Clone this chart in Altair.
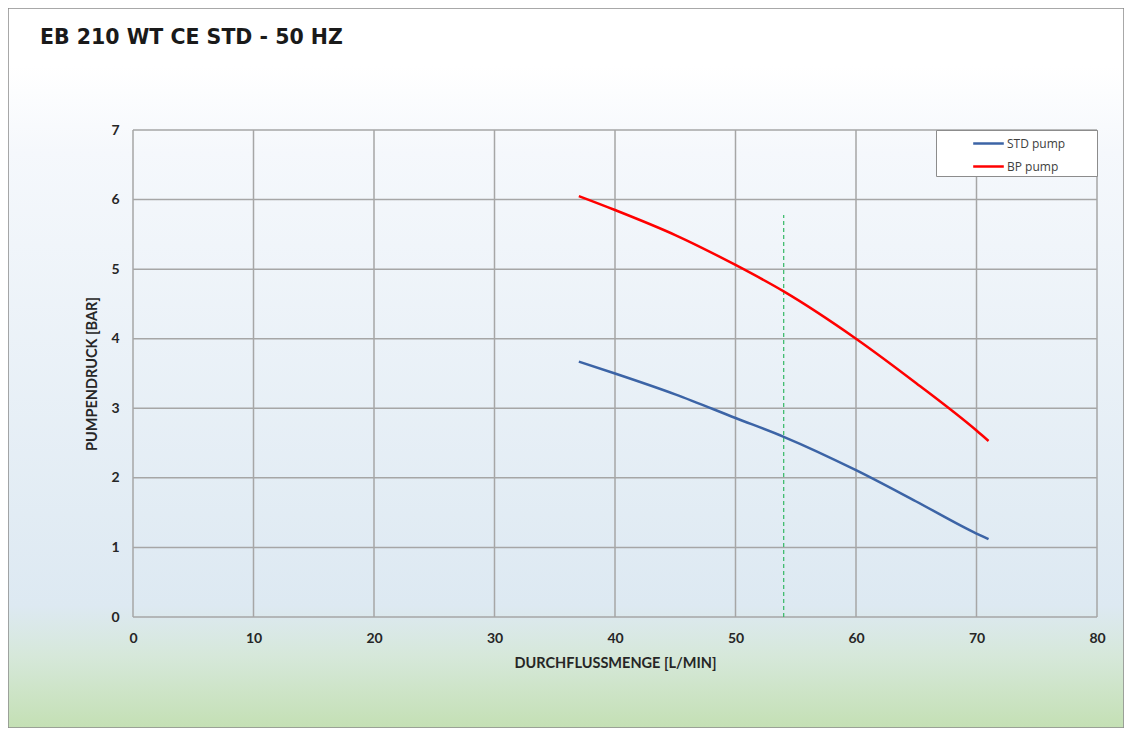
import altair as alt
import pandas as pd

# data
flow_std = [37, 40, 45, 50, 54, 60, 65, 70, 71]
pres_std = [3.67, 3.50, 3.20, 2.86, 2.59, 2.11, 1.66, 1.20, 1.12]
flow_bp = [37, 40, 45, 50, 54, 60, 65, 70, 71]
pres_bp = [6.05, 5.85, 5.49, 5.06, 4.68, 4.00, 3.36, 2.68, 2.53]
marker_flow = [54]
marker_top = [5.78]
series_names = ["STD pump", "BP pump"]
series_colors = ["#3c64a6", "#ff0000"]
x_ticks = [0, 10, 20, 30, 40, 50, 60, 70, 80]
y_ticks = [0, 1, 2, 3, 4, 5, 6, 7]
title_text = "EB 210 WT CE STD - 50 HZ"
x_title = "DURCHFLUSSMENGE [L/MIN]"
y_title = "PUMPENDRUCK [BAR]"

W, H = 964, 487
PL, PT, PR, PB = 125, 122, 27, 111
GRID = "#a6a6a6"

df = pd.concat([
    pd.DataFrame({"flow": flow_std, "pressure": pres_std, "series": series_names[0]}),
    pd.DataFrame({"flow": flow_bp, "pressure": pres_bp, "series": series_names[1]}),
])
df_marker = pd.DataFrame({"flow": marker_flow, "y0": [0], "y1": marker_top})

xs = alt.Scale(domain=[0, 80], nice=False)
ys = alt.Scale(domain=[0, 7], nice=False)

axis_common = dict(grid=False, domain=False, ticks=False, zindex=2, labelFlush=False,
                   labelFont="Lato", labelFontSize=14, labelFontWeight="bold", labelColor="#262626",
                   titleFont="Lato", titleFontSize=14.5, titleFontWeight="bold", titleColor="#262626")
x_axis = alt.Axis(values=x_ticks, labelPadding=14, titlePadding=11, **axis_common)
y_axis = alt.Axis(values=y_ticks, labelPadding=14, titlePadding=11, **axis_common)

bg = alt.Chart(pd.DataFrame({"a": [0]})).mark_rect(
    clip=False,
    stroke="#8c8c8c",
    strokeWidth=1.5,
    color={
        "gradient": "linear",
        "x1": 0, "x2": 0, "y1": 0, "y2": 1,
        "stops": [
            {"offset": 0.0, "color": "#ffffff"},
            {"offset": 0.08, "color": "#ffffff"},
            {"offset": 0.2, "color": "#f5f8fc"},
            {"offset": 0.83, "color": "#dde9f2"},
            {"offset": 0.9, "color": "#d6e8da"},
            {"offset": 1.0, "color": "#c4e0b4"},
        ],
    },
).encode(
    x=alt.value(-PL), x2=alt.value(W + PR),
    y=alt.value(-PT), y2=alt.value(H + PB),
)

grid_x = alt.Chart(pd.DataFrame({"v": x_ticks})).mark_rule(color=GRID, strokeWidth=1.5).encode(
    x=alt.X("v:Q", scale=xs, title=x_title, axis=x_axis)
)
grid_y = alt.Chart(pd.DataFrame({"v": y_ticks})).mark_rule(color=GRID, strokeWidth=1.5).encode(
    y=alt.Y("v:Q", scale=ys, title=y_title, axis=y_axis)
)

marker = alt.Chart(df_marker).mark_rule(color="#33b864", strokeDash=[4, 3], strokeWidth=1.2).encode(
    x=alt.X("flow:Q", scale=xs, title=x_title, axis=x_axis),
    y=alt.Y("y0:Q", scale=ys, title=y_title, axis=y_axis), y2="y1:Q"
)

lines = alt.Chart(df).mark_line(strokeWidth=2.5, interpolate="monotone").encode(
    x=alt.X("flow:Q", scale=xs, title=x_title, axis=x_axis),
    y=alt.Y("pressure:Q", scale=ys, title=y_title, axis=y_axis),
    color=alt.Color("series:N",
                    scale=alt.Scale(domain=series_names, range=series_colors),
                    sort=series_names,
                    legend=alt.Legend(title="MMM", titleOrient="right", titleOpacity=0,
                                      titleFont="Open Sans", titleFontSize=9.5, titlePadding=2,
                                      orient="none", legendX=W - 161, legendY=0,
                                      symbolType="M-1.7,0H1.7", symbolSize=324, symbolStrokeWidth=2.5,
                                      symbolOffset=39, labelOffset=8, padding=3, rowPadding=6,
                                      labelFont="Open Sans", labelFontSize=12, labelColor="#404040",
                                      fillColor="#ffffff", strokeColor="#8c8c8c",
                                      labelLimit=300)),
)

chart = alt.layer(bg, grid_x, grid_y, marker, lines).properties(
    width=W, height=H,
    autosize=alt.AutoSizeParams(type="none"),
    padding={"left": PL, "top": PT, "right": PR, "bottom": PB},
    title=alt.Title(title_text, anchor="start", frame="group", dx=-93, dy=41, offset=0,
                    font="DejaVu Sans", fontSize=20.5, fontWeight="bold", color="#1a1a1a"),
).configure_view(
    stroke=None
)

chart.save("out.html", embed_options={"renderer": "svg", "actions": False})
